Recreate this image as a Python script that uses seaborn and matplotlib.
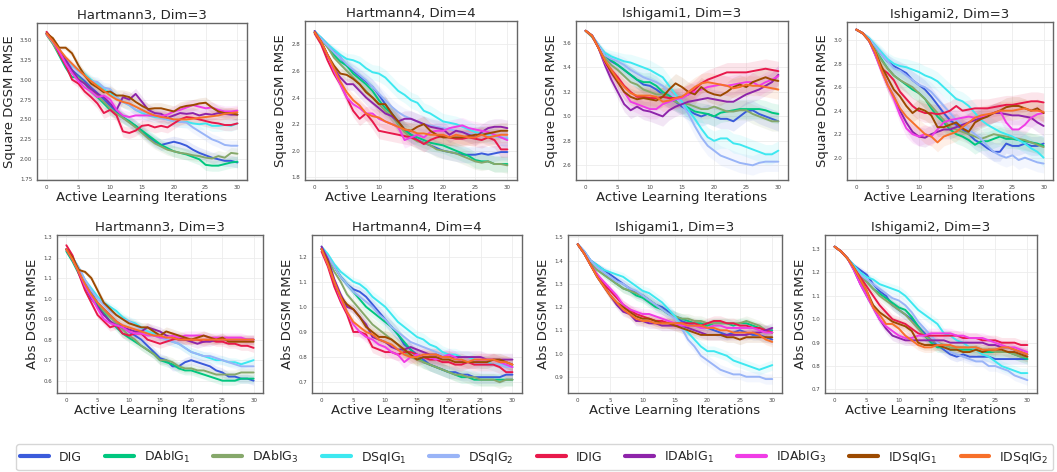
import numpy as np
import pandas as pd
import seaborn as sns
import matplotlib
matplotlib.use("Agg")
import matplotlib.pyplot as plt
from matplotlib.lines import Line2D

methods = ["DIG", "DAbIG1", "DAbIG3", "DSqIG1", "DSqIG2",
           "IDIG", "IDAbIG1", "IDAbIG3", "IDSqIG1", "IDSqIG2"]
legend_labels = ["DIG", "DAbIG$_1$", "DAbIG$_3$", "DSqIG$_1$", "DSqIG$_2$",
                 "IDIG", "IDAbIG$_1$", "IDAbIG$_3$", "IDSqIG$_1$", "IDSqIG$_2$"]
colors = ["#3b5bdb", "#00c77f", "#86a86b", "#3de8f0", "#99b4f7",
          "#e8194b", "#8e24aa", "#f03ce6", "#9c4a00", "#f7702a"]

iterations = list(range(31))

titles = ["Hartmann3, Dim=3", "Hartmann4, Dim=4", "Ishigami1, Dim=3", "Ishigami2, Dim=3",
          "Hartmann3, Dim=3", "Hartmann4, Dim=4", "Ishigami1, Dim=3", "Ishigami2, Dim=3"]
ylabels = ["Square DGSM RMSE"] * 4 + ["Abs DGSM RMSE"] * 4

# ---------------- Panel 1: Hartmann3, Square ----------------
p1 = {
    "DIG":     [3.58, 3.48, 3.35, 3.22, 3.12, 3.05, 2.98, 2.90, 2.83, 2.75, 2.67, 2.60, 2.53, 2.47, 2.42, 2.35, 2.28, 2.22, 2.18, 2.20, 2.22, 2.20, 2.17, 2.12, 2.08, 2.05, 2.02, 2.00, 1.98, 1.98, 1.96],
    "DAbIG1":  [3.57, 3.45, 3.30, 3.15, 3.03, 3.03, 2.95, 2.85, 2.78, 2.70, 2.62, 2.58, 2.52, 2.48, 2.42, 2.36, 2.30, 2.24, 2.18, 2.14, 2.10, 2.08, 2.06, 2.03, 2.00, 1.93, 1.92, 1.92, 1.94, 1.96, 1.97],
    "DAbIG3":  [3.56, 3.45, 3.32, 3.20, 3.10, 3.02, 2.95, 2.88, 2.80, 2.72, 2.64, 2.57, 2.52, 2.46, 2.40, 2.33, 2.26, 2.20, 2.16, 2.12, 2.10, 2.08, 2.07, 2.05, 2.04, 2.02, 2.01, 2.04, 2.02, 2.08, 2.07],
    "DSqIG1":  [3.58, 3.48, 3.36, 3.26, 3.17, 3.12, 3.07, 3.00, 2.94, 2.88, 2.83, 2.78, 2.72, 2.68, 2.62, 2.58, 2.55, 2.53, 2.52, 2.50, 2.48, 2.47, 2.47, 2.45, 2.44, 2.45, 2.42, 2.42, 2.43, 2.42, 2.45],
    "DSqIG2":  [3.58, 3.47, 3.36, 3.26, 3.18, 3.10, 3.05, 2.98, 2.97, 2.90, 2.88, 2.78, 2.72, 2.68, 2.62, 2.60, 2.58, 2.55, 2.52, 2.50, 2.48, 2.47, 2.46, 2.40, 2.35, 2.30, 2.25, 2.22, 2.18, 2.17, 2.17],
    "IDIG":    [3.60, 3.50, 3.32, 3.18, 3.00, 2.95, 2.85, 2.78, 2.70, 2.58, 2.62, 2.55, 2.35, 2.33, 2.36, 2.42, 2.43, 2.40, 2.42, 2.40, 2.45, 2.50, 2.53, 2.52, 2.50, 2.48, 2.46, 2.45, 2.43, 2.43, 2.45],
    "IDAbIG1": [3.58, 3.50, 3.38, 3.25, 3.12, 3.00, 2.95, 2.88, 2.82, 2.78, 2.70, 2.62, 2.78, 2.75, 2.82, 2.72, 2.62, 2.58, 2.57, 2.52, 2.55, 2.58, 2.57, 2.58, 2.55, 2.57, 2.56, 2.58, 2.57, 2.56, 2.56],
    "IDAbIG3": [3.57, 3.48, 3.35, 3.20, 3.08, 2.98, 2.90, 2.85, 2.78, 2.80, 2.75, 2.62, 2.55, 2.53, 2.55, 2.55, 2.55, 2.55, 2.54, 2.56, 2.60, 2.62, 2.65, 2.68, 2.66, 2.64, 2.65, 2.62, 2.60, 2.60, 2.61],
    "IDSqIG1": [3.58, 3.52, 3.40, 3.40, 3.33, 3.18, 3.05, 2.95, 2.90, 2.84, 2.85, 2.80, 2.80, 2.78, 2.72, 2.67, 2.63, 2.64, 2.64, 2.62, 2.60, 2.65, 2.67, 2.68, 2.70, 2.71, 2.65, 2.60, 2.58, 2.58, 2.56],
    "IDSqIG2": [3.58, 3.48, 3.38, 3.28, 3.20, 3.12, 3.05, 2.98, 2.92, 2.86, 2.80, 2.75, 2.72, 2.70, 2.66, 2.62, 2.58, 2.55, 2.53, 2.52, 2.50, 2.50, 2.50, 2.51, 2.52, 2.53, 2.54, 2.55, 2.57, 2.58, 2.59],
}
# ---------------- Panel 2: Hartmann4, Square ----------------
p2 = {
    "DIG":     [2.89, 2.85, 2.80, 2.75, 2.70, 2.64, 2.60, 2.56, 2.52, 2.48, 2.42, 2.35, 2.28, 2.22, 2.16, 2.12, 2.08, 2.06, 2.04, 2.02, 2.00, 1.99, 1.98, 1.97, 1.97, 1.97, 1.98, 1.97, 1.98, 1.99, 1.99],
    "DAbIG1":  [2.89, 2.84, 2.78, 2.72, 2.67, 2.64, 2.58, 2.54, 2.50, 2.45, 2.38, 2.32, 2.28, 2.20, 2.15, 2.12, 2.10, 2.08, 2.06, 2.05, 2.04, 2.02, 2.00, 1.98, 1.96, 1.93, 1.92, 1.92, 1.90, 1.90, 1.90],
    "DAbIG3":  [2.89, 2.84, 2.78, 2.70, 2.65, 2.60, 2.55, 2.50, 2.45, 2.40, 2.35, 2.30, 2.26, 2.20, 2.14, 2.10, 2.07, 2.06, 2.04, 2.01, 2.00, 1.99, 1.98, 1.96, 1.94, 1.92, 1.91, 1.92, 1.90, 1.90, 1.89],
    "DSqIG1":  [2.90, 2.85, 2.80, 2.76, 2.72, 2.69, 2.68, 2.66, 2.62, 2.59, 2.58, 2.55, 2.50, 2.45, 2.42, 2.38, 2.36, 2.30, 2.28, 2.25, 2.22, 2.21, 2.20, 2.18, 2.16, 2.14, 2.13, 2.12, 2.11, 2.10, 2.09],
    "DSqIG2":  [2.89, 2.84, 2.79, 2.74, 2.70, 2.65, 2.61, 2.57, 2.53, 2.48, 2.43, 2.38, 2.33, 2.29, 2.26, 2.24, 2.22, 2.20, 2.19, 2.18, 2.17, 2.16, 2.15, 2.14, 2.13, 2.12, 2.12, 2.11, 2.11, 2.10, 2.10],
    "IDIG":    [2.88, 2.80, 2.68, 2.58, 2.50, 2.40, 2.30, 2.24, 2.28, 2.22, 2.15, 2.14, 2.13, 2.12, 2.11, 2.10, 2.08, 2.05, 2.08, 2.10, 2.11, 2.10, 2.09, 2.09, 2.10, 2.09, 2.08, 2.10, 2.08, 2.01, 2.01],
    "IDAbIG1": [2.90, 2.82, 2.72, 2.62, 2.55, 2.50, 2.50, 2.45, 2.40, 2.36, 2.32, 2.28, 2.26, 2.22, 2.24, 2.24, 2.22, 2.20, 2.18, 2.17, 2.16, 2.12, 2.15, 2.14, 2.12, 2.10, 2.14, 2.17, 2.18, 2.18, 2.17],
    "IDAbIG3": [2.89, 2.82, 2.72, 2.60, 2.50, 2.40, 2.35, 2.32, 2.28, 2.28, 2.24, 2.22, 2.20, 2.18, 2.08, 2.10, 2.12, 2.10, 2.14, 2.15, 2.15, 2.17, 2.18, 2.19, 2.17, 2.16, 2.15, 2.14, 2.12, 2.10, 2.08],
    "IDSqIG1": [2.89, 2.82, 2.72, 2.64, 2.58, 2.57, 2.54, 2.50, 2.44, 2.40, 2.35, 2.35, 2.28, 2.22, 2.16, 2.15, 2.18, 2.20, 2.15, 2.12, 2.10, 2.10, 2.10, 2.10, 2.11, 2.12, 2.12, 2.13, 2.14, 2.15, 2.15],
    "IDSqIG2": [2.89, 2.82, 2.72, 2.62, 2.52, 2.44, 2.38, 2.34, 2.28, 2.26, 2.25, 2.22, 2.20, 2.18, 2.16, 2.15, 2.13, 2.13, 2.12, 2.12, 2.12, 2.10, 2.12, 2.11, 2.10, 2.10, 2.12, 2.10, 2.11, 2.12, 2.12],
}
# ---------------- Panel 3: Ishigami1, Square ----------------
p3 = {
    "DIG":     [3.70, 3.66, 3.58, 3.50, 3.45, 3.42, 3.38, 3.34, 3.30, 3.26, 3.25, 3.22, 3.18, 3.15, 3.12, 3.08, 3.05, 3.02, 3.00, 3.02, 3.00, 2.98, 2.98, 2.96, 3.00, 3.04, 3.05, 3.02, 3.00, 2.98, 2.96],
    "DAbIG1":  [3.70, 3.65, 3.58, 3.50, 3.46, 3.42, 3.38, 3.34, 3.30, 3.28, 3.28, 3.25, 3.20, 3.17, 3.13, 3.10, 3.07, 3.04, 3.03, 3.02, 3.00, 3.03, 3.04, 3.05, 3.06, 3.06, 3.06, 3.06, 3.05, 3.03, 3.02],
    "DAbIG3":  [3.70, 3.65, 3.57, 3.48, 3.42, 3.38, 3.33, 3.28, 3.26, 3.22, 3.20, 3.18, 3.18, 3.15, 3.12, 3.10, 3.10, 3.08, 3.06, 3.06, 3.08, 3.06, 3.04, 3.04, 3.05, 3.05, 3.02, 3.00, 2.98, 2.96, 2.96],
    "DSqIG1":  [3.70, 3.66, 3.58, 3.52, 3.49, 3.47, 3.45, 3.44, 3.42, 3.40, 3.38, 3.35, 3.32, 3.25, 3.18, 3.12, 3.05, 2.98, 2.90, 2.83, 2.80, 2.82, 2.82, 2.78, 2.77, 2.75, 2.73, 2.71, 2.69, 2.69, 2.72],
    "DSqIG2":  [3.70, 3.66, 3.58, 3.50, 3.47, 3.45, 3.42, 3.38, 3.35, 3.32, 3.30, 3.28, 3.25, 3.20, 3.15, 3.10, 3.02, 2.92, 2.83, 2.76, 2.72, 2.68, 2.66, 2.64, 2.62, 2.61, 2.60, 2.62, 2.63, 2.63, 2.63],
    "IDIG":    [3.70, 3.66, 3.56, 3.45, 3.38, 3.32, 3.25, 3.20, 3.16, 3.16, 3.15, 3.15, 3.16, 3.15, 3.15, 3.16, 3.18, 3.22, 3.27, 3.30, 3.32, 3.34, 3.36, 3.36, 3.36, 3.36, 3.37, 3.38, 3.39, 3.38, 3.37],
    "IDAbIG1": [3.70, 3.66, 3.56, 3.42, 3.30, 3.20, 3.10, 3.05, 3.08, 3.05, 3.04, 3.02, 3.00, 3.05, 3.08, 3.10, 3.12, 3.13, 3.14, 3.15, 3.14, 3.13, 3.12, 3.12, 3.15, 3.18, 3.20, 3.22, 3.25, 3.28, 3.34],
    "IDAbIG3": [3.70, 3.66, 3.56, 3.44, 3.35, 3.28, 3.20, 3.12, 3.10, 3.08, 3.06, 3.06, 3.10, 3.12, 3.14, 3.15, 3.18, 3.20, 3.22, 3.24, 3.25, 3.26, 3.25, 3.26, 3.27, 3.28, 3.28, 3.25, 3.28, 3.30, 3.33],
    "IDSqIG1": [3.70, 3.66, 3.56, 3.45, 3.36, 3.28, 3.20, 3.16, 3.14, 3.15, 3.14, 3.13, 3.16, 3.22, 3.27, 3.24, 3.20, 3.18, 3.24, 3.20, 3.18, 3.17, 3.20, 3.24, 3.26, 3.24, 3.28, 3.30, 3.32, 3.30, 3.29],
    "IDSqIG2": [3.70, 3.66, 3.56, 3.46, 3.38, 3.30, 3.24, 3.19, 3.17, 3.17, 3.17, 3.16, 3.12, 3.13, 3.15, 3.16, 3.20, 3.24, 3.27, 3.28, 3.27, 3.26, 3.25, 3.23, 3.24, 3.26, 3.25, 3.25, 3.24, 3.23, 3.22],
}
# ---------------- Panel 4: Ishigami2, Square ----------------
p4 = {
    "DIG":     [3.09, 3.06, 3.01, 2.95, 2.88, 2.82, 2.78, 2.75, 2.72, 2.66, 2.62, 2.58, 2.52, 2.45, 2.38, 2.32, 2.28, 2.24, 2.20, 2.15, 2.12, 2.08, 2.05, 2.05, 2.12, 2.10, 2.10, 2.12, 2.10, 2.10, 2.12],
    "DAbIG1":  [3.09, 3.06, 3.01, 2.92, 2.84, 2.76, 2.70, 2.66, 2.62, 2.58, 2.55, 2.50, 2.42, 2.35, 2.30, 2.24, 2.20, 2.18, 2.15, 2.11, 2.14, 2.14, 2.16, 2.18, 2.16, 2.16, 2.15, 2.14, 2.13, 2.12, 2.10],
    "DAbIG3":  [3.09, 3.06, 3.00, 2.92, 2.83, 2.76, 2.70, 2.66, 2.63, 2.60, 2.55, 2.50, 2.44, 2.38, 2.32, 2.26, 2.24, 2.22, 2.20, 2.18, 2.16, 2.18, 2.20, 2.19, 2.18, 2.17, 2.16, 2.15, 2.13, 2.11, 2.09],
    "DSqIG1":  [3.09, 3.06, 3.02, 2.96, 2.90, 2.84, 2.80, 2.78, 2.77, 2.75, 2.73, 2.70, 2.68, 2.65, 2.60, 2.55, 2.50, 2.48, 2.44, 2.38, 2.32, 2.28, 2.25, 2.22, 2.20, 2.18, 2.15, 2.12, 2.08, 2.05, 2.00],
    "DSqIG2":  [3.09, 3.06, 3.01, 2.95, 2.88, 2.82, 2.76, 2.74, 2.70, 2.66, 2.62, 2.60, 2.56, 2.50, 2.44, 2.38, 2.32, 2.28, 2.24, 2.20, 2.16, 2.10, 2.05, 2.02, 2.00, 2.02, 1.98, 2.00, 1.98, 1.96, 1.95],
    "IDIG":    [3.09, 3.06, 3.00, 2.90, 2.76, 2.72, 2.66, 2.56, 2.50, 2.44, 2.40, 2.38, 2.38, 2.37, 2.38, 2.40, 2.44, 2.40, 2.41, 2.42, 2.42, 2.42, 2.43, 2.44, 2.45, 2.45, 2.46, 2.47, 2.48, 2.48, 2.47],
    "IDAbIG1": [3.09, 3.06, 3.00, 2.88, 2.75, 2.62, 2.52, 2.40, 2.30, 2.22, 2.18, 2.17, 2.20, 2.22, 2.24, 2.24, 2.26, 2.28, 2.30, 2.32, 2.34, 2.36, 2.38, 2.38, 2.37, 2.36, 2.36, 2.35, 2.34, 2.30, 2.27],
    "IDAbIG3": [3.09, 3.06, 3.00, 2.88, 2.74, 2.62, 2.50, 2.36, 2.25, 2.20, 2.18, 2.20, 2.18, 2.24, 2.30, 2.32, 2.33, 2.34, 2.35, 2.34, 2.35, 2.36, 2.38, 2.40, 2.30, 2.24, 2.24, 2.28, 2.34, 2.37, 2.38],
    "IDSqIG1": [3.09, 3.06, 3.00, 2.90, 2.78, 2.68, 2.58, 2.52, 2.44, 2.38, 2.42, 2.40, 2.36, 2.26, 2.26, 2.28, 2.30, 2.25, 2.22, 2.30, 2.33, 2.35, 2.38, 2.40, 2.43, 2.44, 2.44, 2.42, 2.40, 2.42, 2.38],
    "IDSqIG2": [3.09, 3.06, 3.00, 2.90, 2.75, 2.62, 2.52, 2.42, 2.35, 2.30, 2.25, 2.20, 2.18, 2.13, 2.18, 2.20, 2.22, 2.26, 2.30, 2.34, 2.36, 2.37, 2.38, 2.40, 2.40, 2.40, 2.41, 2.42, 2.40, 2.40, 2.39],
}
# ---------------- Panel 5: Hartmann3, Abs ----------------
p5 = {
    "DIG":     [1.24, 1.20, 1.14, 1.08, 1.03, 0.98, 0.95, 0.92, 0.89, 0.86, 0.84, 0.82, 0.80, 0.77, 0.74, 0.71, 0.70, 0.67, 0.67, 0.69, 0.70, 0.69, 0.68, 0.67, 0.65, 0.64, 0.62, 0.62, 0.61, 0.61, 0.60],
    "DAbIG1":  [1.23, 1.18, 1.12, 1.06, 1.01, 0.97, 0.93, 0.89, 0.86, 0.83, 0.81, 0.79, 0.77, 0.75, 0.73, 0.70, 0.69, 0.68, 0.66, 0.65, 0.65, 0.64, 0.63, 0.62, 0.61, 0.60, 0.60, 0.60, 0.61, 0.61, 0.61],
    "DAbIG3":  [1.24, 1.19, 1.13, 1.07, 1.02, 0.98, 0.94, 0.91, 0.88, 0.85, 0.82, 0.80, 0.77, 0.75, 0.73, 0.70, 0.70, 0.69, 0.67, 0.66, 0.66, 0.65, 0.65, 0.64, 0.63, 0.63, 0.63, 0.63, 0.64, 0.64, 0.64],
    "DSqIG1":  [1.24, 1.20, 1.15, 1.09, 1.05, 1.01, 0.98, 0.96, 0.94, 0.91, 0.89, 0.88, 0.86, 0.84, 0.83, 0.82, 0.80, 0.79, 0.78, 0.76, 0.74, 0.73, 0.72, 0.71, 0.70, 0.70, 0.69, 0.69, 0.68, 0.69, 0.70],
    "DSqIG2":  [1.24, 1.20, 1.15, 1.09, 1.04, 1.00, 0.97, 0.94, 0.92, 0.90, 0.89, 0.87, 0.85, 0.83, 0.82, 0.81, 0.80, 0.79, 0.78, 0.76, 0.74, 0.73, 0.72, 0.72, 0.71, 0.70, 0.69, 0.68, 0.67, 0.67, 0.67],
    "IDIG":    [1.26, 1.21, 1.12, 1.04, 0.98, 0.92, 0.89, 0.86, 0.87, 0.83, 0.82, 0.83, 0.83, 0.80, 0.79, 0.78, 0.79, 0.80, 0.81, 0.80, 0.80, 0.80, 0.79, 0.80, 0.79, 0.79, 0.78, 0.78, 0.77, 0.77, 0.76],
    "IDAbIG1": [1.24, 1.19, 1.13, 1.06, 1.00, 0.96, 0.92, 0.89, 0.87, 0.86, 0.85, 0.84, 0.84, 0.86, 0.85, 0.84, 0.82, 0.81, 0.80, 0.80, 0.79, 0.78, 0.79, 0.79, 0.80, 0.80, 0.80, 0.80, 0.80, 0.80, 0.80],
    "IDAbIG3": [1.24, 1.19, 1.13, 1.06, 1.01, 0.95, 0.90, 0.88, 0.87, 0.86, 0.84, 0.83, 0.83, 0.82, 0.82, 0.81, 0.81, 0.82, 0.81, 0.82, 0.82, 0.82, 0.82, 0.81, 0.81, 0.81, 0.81, 0.81, 0.81, 0.80, 0.80],
    "IDSqIG1": [1.24, 1.20, 1.14, 1.13, 1.10, 1.04, 0.98, 0.95, 0.92, 0.90, 0.88, 0.87, 0.86, 0.86, 0.84, 0.82, 0.84, 0.83, 0.82, 0.81, 0.80, 0.81, 0.82, 0.81, 0.80, 0.81, 0.79, 0.79, 0.79, 0.79, 0.79],
    "IDSqIG2": [1.24, 1.19, 1.13, 1.07, 1.02, 0.98, 0.95, 0.92, 0.89, 0.87, 0.86, 0.85, 0.84, 0.83, 0.82, 0.82, 0.81, 0.81, 0.80, 0.80, 0.80, 0.80, 0.80, 0.80, 0.80, 0.80, 0.80, 0.80, 0.80, 0.80, 0.80],
}
# ---------------- Panel 6: Hartmann4, Abs ----------------
p6 = {
    "DIG":     [1.23, 1.20, 1.16, 1.12, 1.09, 1.07, 1.06, 1.04, 1.01, 0.98, 0.95, 0.92, 0.89, 0.85, 0.83, 0.81, 0.79, 0.77, 0.76, 0.75, 0.74, 0.74, 0.73, 0.73, 0.72, 0.72, 0.72, 0.72, 0.72, 0.73, 0.73],
    "DAbIG1":  [1.23, 1.20, 1.16, 1.12, 1.09, 1.06, 1.03, 1.00, 0.98, 0.96, 0.94, 0.92, 0.89, 0.86, 0.83, 0.80, 0.78, 0.77, 0.76, 0.75, 0.74, 0.73, 0.72, 0.72, 0.71, 0.71, 0.71, 0.71, 0.71, 0.71, 0.71],
    "DAbIG3":  [1.23, 1.19, 1.14, 1.10, 1.05, 1.02, 0.99, 0.96, 0.93, 0.91, 0.89, 0.87, 0.85, 0.82, 0.80, 0.79, 0.78, 0.77, 0.76, 0.75, 0.74, 0.73, 0.73, 0.72, 0.72, 0.71, 0.71, 0.71, 0.70, 0.71, 0.71],
    "DSqIG1":  [1.24, 1.21, 1.17, 1.14, 1.12, 1.10, 1.09, 1.07, 1.04, 1.02, 1.00, 0.97, 0.94, 0.92, 0.90, 0.88, 0.87, 0.85, 0.84, 0.82, 0.81, 0.81, 0.80, 0.80, 0.79, 0.78, 0.78, 0.77, 0.77, 0.77, 0.76],
    "DSqIG2":  [1.23, 1.20, 1.16, 1.12, 1.09, 1.06, 1.04, 1.02, 1.00, 0.97, 0.95, 0.92, 0.90, 0.88, 0.86, 0.85, 0.84, 0.83, 0.82, 0.81, 0.80, 0.79, 0.79, 0.78, 0.78, 0.77, 0.77, 0.77, 0.77, 0.76, 0.76],
    "IDIG":    [1.22, 1.16, 1.08, 1.02, 0.97, 0.90, 0.90, 0.89, 0.84, 0.83, 0.82, 0.82, 0.81, 0.82, 0.82, 0.81, 0.80, 0.79, 0.79, 0.78, 0.78, 0.77, 0.77, 0.78, 0.77, 0.77, 0.77, 0.77, 0.76, 0.74, 0.74],
    "IDAbIG1": [1.24, 1.19, 1.11, 1.05, 1.00, 0.99, 0.96, 0.93, 0.88, 0.87, 0.86, 0.84, 0.83, 0.83, 0.84, 0.83, 0.82, 0.81, 0.81, 0.80, 0.80, 0.80, 0.80, 0.80, 0.80, 0.80, 0.79, 0.79, 0.79, 0.79, 0.79],
    "IDAbIG3": [1.23, 1.17, 1.10, 1.03, 0.98, 0.93, 0.90, 0.88, 0.87, 0.85, 0.84, 0.82, 0.81, 0.78, 0.80, 0.81, 0.80, 0.80, 0.79, 0.80, 0.81, 0.80, 0.78, 0.78, 0.78, 0.79, 0.79, 0.79, 0.78, 0.77, 0.76],
    "IDSqIG1": [1.23, 1.18, 1.10, 1.04, 1.01, 0.99, 0.96, 0.92, 0.90, 0.88, 0.88, 0.87, 0.85, 0.83, 0.81, 0.79, 0.80, 0.80, 0.80, 0.79, 0.79, 0.78, 0.78, 0.78, 0.78, 0.78, 0.78, 0.79, 0.79, 0.78, 0.77],
    "IDSqIG2": [1.23, 1.17, 1.10, 1.04, 0.98, 0.94, 0.92, 0.90, 0.89, 0.87, 0.86, 0.85, 0.83, 0.81, 0.80, 0.80, 0.81, 0.81, 0.81, 0.80, 0.80, 0.79, 0.79, 0.78, 0.79, 0.79, 0.79, 0.79, 0.78, 0.78, 0.77],
}
# ---------------- Panel 7: Ishigami1, Abs ----------------
p7 = {
    "DIG":     [1.47, 1.44, 1.40, 1.38, 1.36, 1.34, 1.32, 1.30, 1.28, 1.26, 1.25, 1.23, 1.21, 1.20, 1.18, 1.16, 1.14, 1.13, 1.12, 1.12, 1.11, 1.10, 1.09, 1.08, 1.09, 1.10, 1.09, 1.08, 1.08, 1.07, 1.06],
    "DAbIG1":  [1.47, 1.43, 1.39, 1.36, 1.34, 1.32, 1.30, 1.28, 1.27, 1.25, 1.24, 1.22, 1.20, 1.19, 1.17, 1.16, 1.15, 1.14, 1.13, 1.13, 1.12, 1.13, 1.13, 1.13, 1.12, 1.13, 1.13, 1.12, 1.11, 1.10, 1.10],
    "DAbIG3":  [1.47, 1.43, 1.39, 1.36, 1.34, 1.32, 1.30, 1.28, 1.27, 1.26, 1.25, 1.23, 1.21, 1.19, 1.17, 1.16, 1.15, 1.15, 1.14, 1.14, 1.13, 1.13, 1.13, 1.13, 1.13, 1.13, 1.14, 1.13, 1.12, 1.10, 1.09],
    "DSqIG1":  [1.47, 1.44, 1.40, 1.38, 1.36, 1.35, 1.34, 1.33, 1.31, 1.29, 1.27, 1.26, 1.24, 1.22, 1.19, 1.16, 1.12, 1.09, 1.06, 1.03, 1.01, 1.01, 1.00, 0.99, 0.97, 0.96, 0.95, 0.94, 0.93, 0.94, 0.95],
    "DSqIG2":  [1.47, 1.44, 1.40, 1.37, 1.35, 1.33, 1.31, 1.30, 1.28, 1.27, 1.25, 1.23, 1.21, 1.19, 1.17, 1.15, 1.11, 1.06, 1.03, 0.99, 0.97, 0.95, 0.93, 0.92, 0.91, 0.91, 0.90, 0.90, 0.90, 0.89, 0.89],
    "IDIG":    [1.47, 1.43, 1.38, 1.34, 1.30, 1.27, 1.24, 1.21, 1.19, 1.17, 1.16, 1.15, 1.14, 1.14, 1.13, 1.13, 1.13, 1.13, 1.13, 1.12, 1.13, 1.14, 1.14, 1.13, 1.13, 1.12, 1.12, 1.11, 1.11, 1.10, 1.09],
    "IDAbIG1": [1.47, 1.43, 1.38, 1.33, 1.29, 1.25, 1.21, 1.18, 1.17, 1.14, 1.14, 1.13, 1.13, 1.12, 1.12, 1.12, 1.12, 1.11, 1.10, 1.09, 1.08, 1.08, 1.08, 1.08, 1.08, 1.08, 1.08, 1.09, 1.09, 1.10, 1.11],
    "IDAbIG3": [1.47, 1.43, 1.38, 1.34, 1.31, 1.28, 1.25, 1.21, 1.19, 1.18, 1.17, 1.17, 1.16, 1.15, 1.14, 1.13, 1.12, 1.12, 1.12, 1.11, 1.11, 1.12, 1.12, 1.11, 1.11, 1.11, 1.11, 1.11, 1.10, 1.09, 1.09],
    "IDSqIG1": [1.47, 1.43, 1.38, 1.33, 1.29, 1.25, 1.22, 1.20, 1.18, 1.16, 1.15, 1.15, 1.14, 1.13, 1.13, 1.12, 1.11, 1.10, 1.09, 1.08, 1.08, 1.08, 1.08, 1.07, 1.07, 1.06, 1.07, 1.07, 1.07, 1.07, 1.07],
    "IDSqIG2": [1.47, 1.43, 1.38, 1.33, 1.29, 1.25, 1.22, 1.19, 1.17, 1.15, 1.14, 1.14, 1.13, 1.13, 1.13, 1.13, 1.13, 1.12, 1.12, 1.12, 1.11, 1.11, 1.10, 1.10, 1.09, 1.09, 1.09, 1.09, 1.08, 1.06, 1.05],
}
# ---------------- Panel 8: Ishigami2, Abs ----------------
p8 = {
    "DIG":     [1.31, 1.29, 1.26, 1.23, 1.21, 1.19, 1.15, 1.12, 1.10, 1.06, 1.04, 1.02, 1.00, 0.97, 0.94, 0.91, 0.89, 0.87, 0.85, 0.84, 0.85, 0.84, 0.84, 0.84, 0.84, 0.83, 0.83, 0.83, 0.83, 0.83, 0.83],
    "DAbIG1":  [1.31, 1.29, 1.26, 1.22, 1.19, 1.16, 1.13, 1.11, 1.09, 1.07, 1.05, 1.04, 1.01, 0.97, 0.93, 0.90, 0.88, 0.88, 0.87, 0.87, 0.87, 0.87, 0.87, 0.86, 0.86, 0.86, 0.86, 0.86, 0.85, 0.84, 0.83],
    "DAbIG3":  [1.31, 1.29, 1.26, 1.22, 1.18, 1.16, 1.13, 1.10, 1.08, 1.06, 1.04, 1.02, 0.99, 0.96, 0.93, 0.91, 0.90, 0.89, 0.88, 0.88, 0.88, 0.88, 0.88, 0.87, 0.87, 0.86, 0.86, 0.86, 0.85, 0.84, 0.84],
    "DSqIG1":  [1.31, 1.29, 1.26, 1.23, 1.20, 1.18, 1.17, 1.15, 1.14, 1.13, 1.12, 1.10, 1.07, 1.04, 1.02, 1.00, 0.98, 0.94, 0.93, 0.91, 0.90, 0.88, 0.87, 0.85, 0.84, 0.82, 0.80, 0.79, 0.78, 0.77, 0.77],
    "DSqIG2":  [1.31, 1.29, 1.26, 1.22, 1.19, 1.17, 1.15, 1.13, 1.11, 1.09, 1.08, 1.06, 1.03, 0.99, 0.96, 0.93, 0.90, 0.88, 0.86, 0.85, 0.84, 0.83, 0.82, 0.82, 0.80, 0.80, 0.79, 0.78, 0.76, 0.75, 0.74],
    "IDIG":    [1.31, 1.29, 1.26, 1.22, 1.18, 1.14, 1.10, 1.06, 1.03, 1.00, 0.99, 0.98, 0.96, 0.94, 0.93, 0.93, 0.93, 0.93, 0.93, 0.93, 0.92, 0.92, 0.92, 0.91, 0.91, 0.91, 0.90, 0.90, 0.90, 0.89, 0.89],
    "IDAbIG1": [1.31, 1.29, 1.26, 1.21, 1.15, 1.10, 1.05, 1.00, 0.96, 0.93, 0.92, 0.91, 0.91, 0.91, 0.91, 0.91, 0.91, 0.91, 0.90, 0.90, 0.90, 0.90, 0.90, 0.90, 0.89, 0.89, 0.88, 0.88, 0.87, 0.86, 0.85],
    "IDAbIG3": [1.31, 1.29, 1.26, 1.21, 1.15, 1.10, 1.05, 1.00, 0.97, 0.95, 0.93, 0.92, 0.92, 0.93, 0.93, 0.94, 0.94, 0.94, 0.94, 0.93, 0.93, 0.92, 0.92, 0.92, 0.91, 0.90, 0.89, 0.88, 0.88, 0.87, 0.86],
    "IDSqIG1": [1.31, 1.29, 1.26, 1.22, 1.17, 1.12, 1.06, 1.03, 1.01, 0.99, 0.98, 0.97, 0.95, 0.90, 0.89, 0.89, 0.89, 0.88, 0.87, 0.87, 0.86, 0.86, 0.87, 0.86, 0.87, 0.87, 0.87, 0.86, 0.86, 0.85, 0.84],
    "IDSqIG2": [1.31, 1.29, 1.26, 1.22, 1.17, 1.12, 1.05, 1.02, 0.98, 0.98, 0.96, 0.93, 0.91, 0.89, 0.88, 0.88, 0.89, 0.89, 0.89, 0.88, 0.88, 0.88, 0.88, 0.87, 0.87, 0.87, 0.88, 0.88, 0.87, 0.86, 0.85],
}
panels = [p1, p2, p3, p4, p5, p6, p7, p8]

# shaded band half-width (std band): growth profile over iterations and per-panel scale
band_profile = [0.05, 0.15, 0.3, 0.45, 0.6, 0.7, 0.78, 0.85, 0.9, 0.95, 1.0, 1.0, 1.0, 1.0, 1.0, 1.0,
                1.0, 1.0, 1.0, 1.0, 1.0, 1.0, 1.0, 1.0, 1.0, 1.0, 1.0, 1.0, 1.0, 1.0, 1.0]
band_scale = [0.07, 0.06, 0.08, 0.08, 0.022, 0.025, 0.022, 0.022]

ylims = [(1.74, 3.71), (1.78, 2.975), (2.48, 3.78), (1.81, 3.155),
         (0.54, 1.31), (0.657, 1.286), (0.83, 1.51), (0.685, 1.36)]
yticks = [[1.75, 2.00, 2.25, 2.50, 2.75, 3.00, 3.25, 3.50],
          [1.8, 2.0, 2.2, 2.4, 2.6, 2.8],
          [2.6, 2.8, 3.0, 3.2, 3.4, 3.6],
          [2.0, 2.2, 2.4, 2.6, 2.8, 3.0],
          [0.6, 0.7, 0.8, 0.9, 1.0, 1.1, 1.2, 1.3],
          [0.7, 0.8, 0.9, 1.0, 1.1, 1.2],
          [0.9, 1.0, 1.1, 1.2, 1.3, 1.4, 1.5],
          [0.7, 0.8, 0.9, 1.0, 1.1, 1.2, 1.3]]
ytick_fmt = ["{:.2f}"] + ["{:.1f}"] * 7
xticks = [0, 5, 10, 15, 20, 25, 30]

# axes boxes in pixels: left, top, right, bottom
W, H = 1057, 472
boxes = [(37, 23, 247, 180), (305, 21, 517, 180), (576, 21, 788, 180), (847, 22, 1053, 180),
         (57, 235, 263, 393), (312, 235, 522, 393), (568, 235, 782, 393), (825, 235, 1037, 393)]

sns.set_theme(style="whitegrid")
plt.rcParams["font.family"] = ["DejaVu Sans"]

fig = plt.figure(figsize=(W / 100, H / 100), dpi=100)
palette = dict(zip(methods, colors))

for i, data in enumerate(panels):
    l, t, r, b = boxes[i]
    ax = fig.add_axes([l / W, 1 - b / H, (r - l) / W, (b - t) / H])
    rows = []
    for m in methods:
        for x, y in zip(iterations, data[m]):
            rows.append((m, x, y))
    df = pd.DataFrame(rows, columns=["method", "iter", "value"])
    for m in methods:
        y = np.array(data[m])
        hw = band_scale[i] * np.array(band_profile)
        ax.fill_between(iterations, y - hw, y + hw, color=palette[m], alpha=0.11, linewidth=0)
    sns.lineplot(data=df, x="iter", y="value", hue="method", hue_order=methods,
                 palette=palette, linewidth=1.4, ax=ax, legend=False, errorbar=None)
    ax.set_xlim(-1.5, 31.5)
    ax.set_ylim(*ylims[i])
    ax.set_xticks(xticks)
    ax.set_xticklabels([str(v) for v in xticks])
    ax.set_yticks(yticks[i])
    ax.set_yticklabels([ytick_fmt[i].format(v) for v in yticks[i]])
    ax.tick_params(axis="both", labelsize=4, length=1.5, pad=2, colors="#444444")
    ax.grid(True, color="#ececec", linewidth=0.6)
    for s in ax.spines.values():
        s.set_color("#666666")
        s.set_linewidth(1.0)
    ax.set_title(titles[i], fontsize=9.5, pad=3)
    ax.set_xlabel("Active Learning Iterations", fontsize=9.5, labelpad=1)
    ax.set_ylabel(ylabels[i], fontsize=9.5, labelpad=3)

handles = [Line2D([0], [0], color=c, linewidth=3) for c in colors]
leg = fig.legend(handles, legend_labels, loc="lower left",
                 bbox_to_anchor=(16 / W, 1 - 470 / H, (1053 - 16) / W, 25 / H),
                 mode="expand", ncol=10, fontsize=9, frameon=True, fancybox=True,
                 handlelength=2.3, handletextpad=0.8, borderaxespad=0, borderpad=0.35)
leg.get_frame().set_edgecolor("#cccccc")
leg.get_frame().set_linewidth(1.0)

fig.savefig("out.png", dpi=100)
